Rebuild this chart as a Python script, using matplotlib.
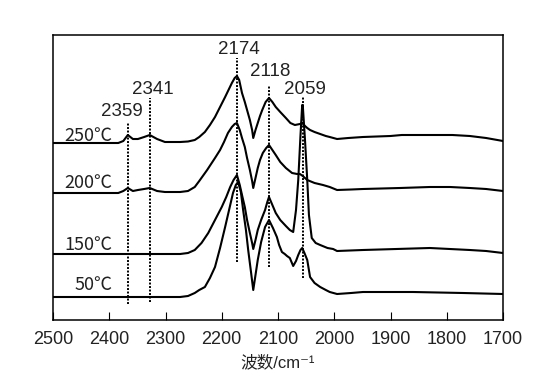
import matplotlib
matplotlib.use("Agg")
import matplotlib.pyplot as plt
import numpy as np

# wavenumber (cm-1) and offset intensity (a.u., curves stacked)
wn_250 = [2500, 2384, 2375, 2367, 2358, 2349, 2338, 2328, 2315, 2301, 2274, 2260,
          2248, 2240, 2230, 2221, 2212, 2203, 2194, 2188, 2182, 2177, 2173, 2169,
          2164, 2159, 2155, 2150, 2146, 2144, 2140, 2136, 2132, 2128, 2122, 2116,
          2110, 2104, 2096, 2086, 2078, 2070, 2061, 2057, 2052, 2048, 2043, 2035,
          2025, 2015, 2008, 1995, 1975, 1949, 1900, 1880, 1830, 1790, 1759, 1730, 1700]
y_250 = [177, 177, 179, 185, 181, 181, 183, 185, 181, 178, 178, 178.5,
         180, 183, 188, 195, 203, 213, 223, 230, 237, 242, 244, 240,
         227, 218, 210, 200, 190, 182, 190, 197, 204, 210, 218, 222,
         218, 213, 208, 202, 197, 195, 196, 197, 194, 192, 190, 188,
         186, 184, 183, 181, 182, 183, 184, 185, 185, 185, 184, 182, 179]

wn_200 = [2500, 2384, 2375, 2367, 2358, 2349, 2338, 2328, 2315, 2301, 2274, 2260,
          2248, 2240, 2226, 2212, 2203, 2196, 2189, 2182, 2177, 2173, 2168, 2164,
          2159, 2155, 2150, 2146, 2144, 2140, 2136, 2132, 2127, 2121, 2116, 2110,
          2104, 2096, 2086, 2075, 2066, 2061, 2056, 2048, 2035, 2020, 2008, 1995,
          1970, 1949, 1883, 1830, 1794, 1759, 1730, 1700]
y_200 = [127, 127, 129, 132, 129, 130, 131, 132, 129, 128, 128, 129,
         133, 139, 150, 162, 170, 178, 187, 193, 196, 197, 190, 182,
         173, 162, 150, 139, 132, 142, 152, 160, 167, 172, 175, 170,
         165, 158, 152, 147, 146, 146, 144, 140, 137, 135, 133, 130,
         130.5, 131, 132, 133, 133, 132, 131, 129]

wn_150 = [2500, 2274, 2260, 2248, 2236, 2224, 2212, 2200, 2192, 2185, 2179, 2173,
          2168, 2164, 2159, 2155, 2150, 2146, 2144, 2140, 2136, 2130, 2123, 2119,
          2116, 2110, 2104, 2096, 2086, 2079, 2073, 2068, 2064, 2060, 2057, 2056,
          2052, 2048, 2045, 2040, 2033, 2025, 2012, 2002, 1995, 1949, 1830, 1759,
          1730, 1700]
y_150 = [66, 66, 67, 70, 77, 87, 100, 113, 123, 133, 140, 145,
         135, 125, 113, 100, 87, 77, 71, 80, 90, 100, 110, 118,
         123, 115, 107, 100, 94, 90, 88, 110, 140, 185, 215, 215,
         180, 140, 105, 82, 77, 75, 72, 71, 69, 70, 72, 70,
         69, 67]

wn_50 = [2500, 2274, 2260, 2248, 2240, 2230, 2221, 2212, 2203, 2194, 2187, 2180,
         2175, 2171, 2166, 2162, 2157, 2153, 2148, 2144, 2140, 2136, 2130, 2123,
         2116, 2109, 2102, 2098, 2093, 2088, 2084, 2079, 2073, 2068, 2064, 2060,
         2057, 2053, 2048, 2043, 2035, 2025, 2015, 2008, 1995, 1970, 1949, 1860,
         1771, 1700]
y_50 = [23, 23, 24, 27, 30, 33, 42, 53, 72, 93, 110, 127,
        135, 138, 128, 110, 90, 70, 48, 30, 45, 60, 78, 93,
        100, 92, 83, 75, 68, 66, 64, 62, 54, 59, 65, 70,
        72, 67, 60, 43, 37, 33, 30, 28, 26, 27, 28, 28,
        27, 26]

temp_labels = ["250℃", "200℃", "150℃", "50℃"]
temp_label_y = [184, 137, 75, 35]

peak_labels = ["2359", "2341", "2174", "2118", "2059"]
peak_x = [2367, 2327, 2173, 2116, 2056]      # where the dotted lines are drawn
peak_top = [198, 222, 262, 235, 223]
peak_bottom = [16, 18, 58, 53, 42]
peak_label_x = [2377, 2322, 2169, 2114, 2052]
peak_label_y = [200, 222, 262, 240, 222]

plt.rcParams['font.family'] = ['Liberation Sans', 'Noto Sans CJK SC', 'DejaVu Sans']

fig = plt.figure(figsize=(5.36, 3.82), dpi=100)
ax = fig.add_axes([53/536, 1-320/382, 450/536, 285/382])

for wn, y in [(wn_250, y_250), (wn_200, y_200), (wn_150, y_150), (wn_50, y_50)]:
    ax.plot(wn, y, color='black', lw=1.5, solid_joinstyle='round')

for x, t, b in zip(peak_x, peak_top, peak_bottom):
    ax.plot([x, x], [b, t], color='black', lw=1.4, linestyle=(0, (1, 0.8)))

for s, x, y in zip(peak_labels, peak_label_x, peak_label_y):
    ax.text(x, y, s, ha='center', va='bottom', fontsize=13.5, color='#222222')

for s, y in zip(temp_labels, temp_label_y):
    ax.text(2395, y, s, ha='right', va='center', fontsize=13, color='#222222',
            family=['Noto Sans CJK SC', 'DejaVu Sans'])

ax.set_xlim(2500, 1700)
ax.set_ylim(0, 285)
ax.set_xticks(np.arange(2500, 1699, -100))
ax.tick_params(axis='x', direction='in', length=5.5, width=0.8, labelsize=13,
               pad=8, colors='black', labelcolor='#222222')
ax.set_yticks([])
for sp in ax.spines.values():
    sp.set_linewidth(1.1)
ax.set_xlabel("波数/cm⁻¹", fontsize=12, labelpad=5, color='#222222')

fig.savefig("out.png", dpi=100)
